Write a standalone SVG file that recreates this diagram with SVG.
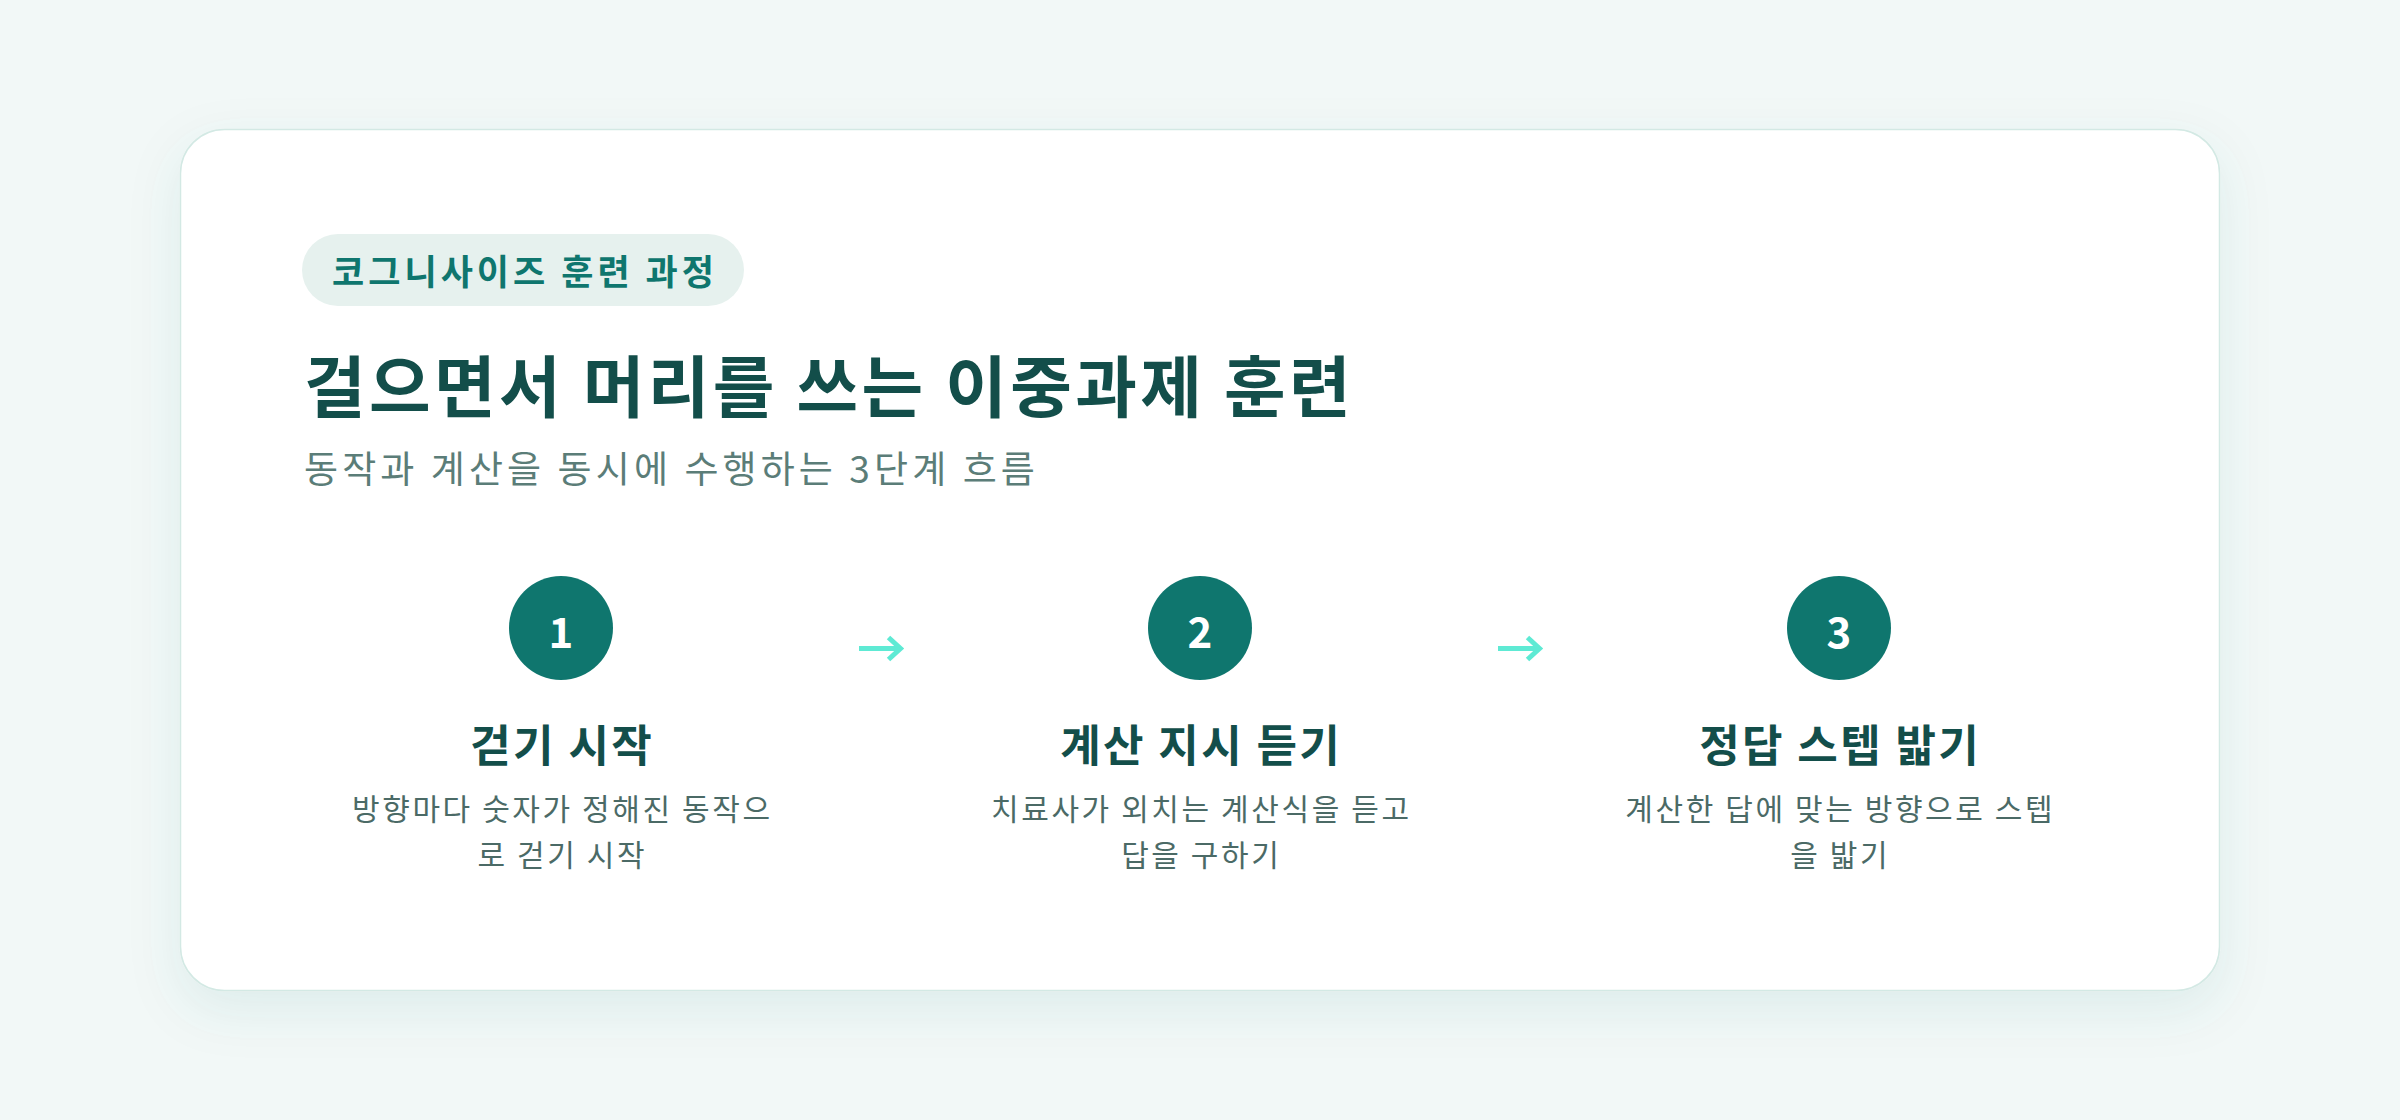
<svg xmlns="http://www.w3.org/2000/svg" width="2400" height="1120" viewBox="0 0 2400 1120">
<defs>
<filter id="shadow" x="-10%" y="-15%" width="120%" height="135%">
<feDropShadow dx="0" dy="18" stdDeviation="26" flood-color="#0f766e" flood-opacity="0.09"/>
</filter>
<style>
.ko{font-family:"Noto Sans CJK KR","Noto Sans",sans-serif}
.pill-text{font-size:35px;font-weight:700;fill:#0f766e;letter-spacing:4px}
.title{font-size:67px;font-weight:700;fill:#134e4a;letter-spacing:3.4px}
.subtitle{font-size:37px;font-weight:400;fill:#5b7d78;letter-spacing:4.1px}
.num{font-size:42px;font-weight:700;fill:#ffffff;text-anchor:middle}
.step-title{font-size:44px;font-weight:700;fill:#134e4a;text-anchor:middle;letter-spacing:2.4px}
.desc{font-size:30px;font-weight:400;fill:#4b6a66;text-anchor:middle;letter-spacing:2.6px}
.arrow{fill:none;stroke:#5eead4;stroke-width:5;stroke-linecap:butt;stroke-linejoin:miter}
.circle{fill:#0f766e}
</style>
</defs>
<rect x="0" y="0" width="2400" height="1120" fill="#f2f8f7"/>
<g id="card">
<rect x="180.5" y="129.5" width="2039" height="861" rx="44" fill="#ffffff" stroke="#d3e9e4" stroke-width="1.5" filter="url(#shadow)"/>
</g>
<g id="header">
<rect x="302" y="234" width="442" height="72" rx="36" fill="#e6f1ee"/>
<text class="ko pill-text" x="525" y="285" text-anchor="middle">코그니사이즈 훈련 과정</text>
<text class="ko title" x="304" y="412">걸으면서 머리를 쓰는 이중과제 훈련</text>
<text class="ko subtitle" x="304" y="483">동작과 계산을 동시에 수행하는 3단계 흐름</text>
</g>
<g id="connectors">
<path class="arrow" d="M859,648.5 H900 M888.5,637.5 L900.5,648.5 L888.5,659.5"/>
<path class="arrow" d="M1498,648.5 H1539 M1527.5,637.5 L1539.5,648.5 L1527.5,659.5"/>
</g>
<g id="step1">
<circle class="circle" cx="561" cy="628" r="52"/>
<text class="ko num" x="561" y="648">1</text>
<text class="ko step-title" x="562.2" y="762">걷기 시작</text>
<text class="ko desc" x="562.3" y="820">방향마다 숫자가 정해진 동작으</text>
<text class="ko desc" x="562.3" y="866">로 걷기 시작</text>
</g>
<g id="step2">
<circle class="circle" cx="1200" cy="628" r="52"/>
<text class="ko num" x="1200" y="648">2</text>
<text class="ko step-title" x="1201.2" y="762">계산 지시 듣기</text>
<text class="ko desc" x="1201.3" y="820">치료사가 외치는 계산식을 듣고</text>
<text class="ko desc" x="1201.3" y="866">답을 구하기</text>
</g>
<g id="step3">
<circle class="circle" cx="1839" cy="628" r="52"/>
<text class="ko num" x="1839" y="648">3</text>
<text class="ko step-title" x="1840.2" y="762">정답 스텝 밟기</text>
<text class="ko desc" x="1840.3" y="820">계산한 답에 맞는 방향으로 스텝</text>
<text class="ko desc" x="1840.3" y="866">을 밟기</text>
</g>
</svg>
